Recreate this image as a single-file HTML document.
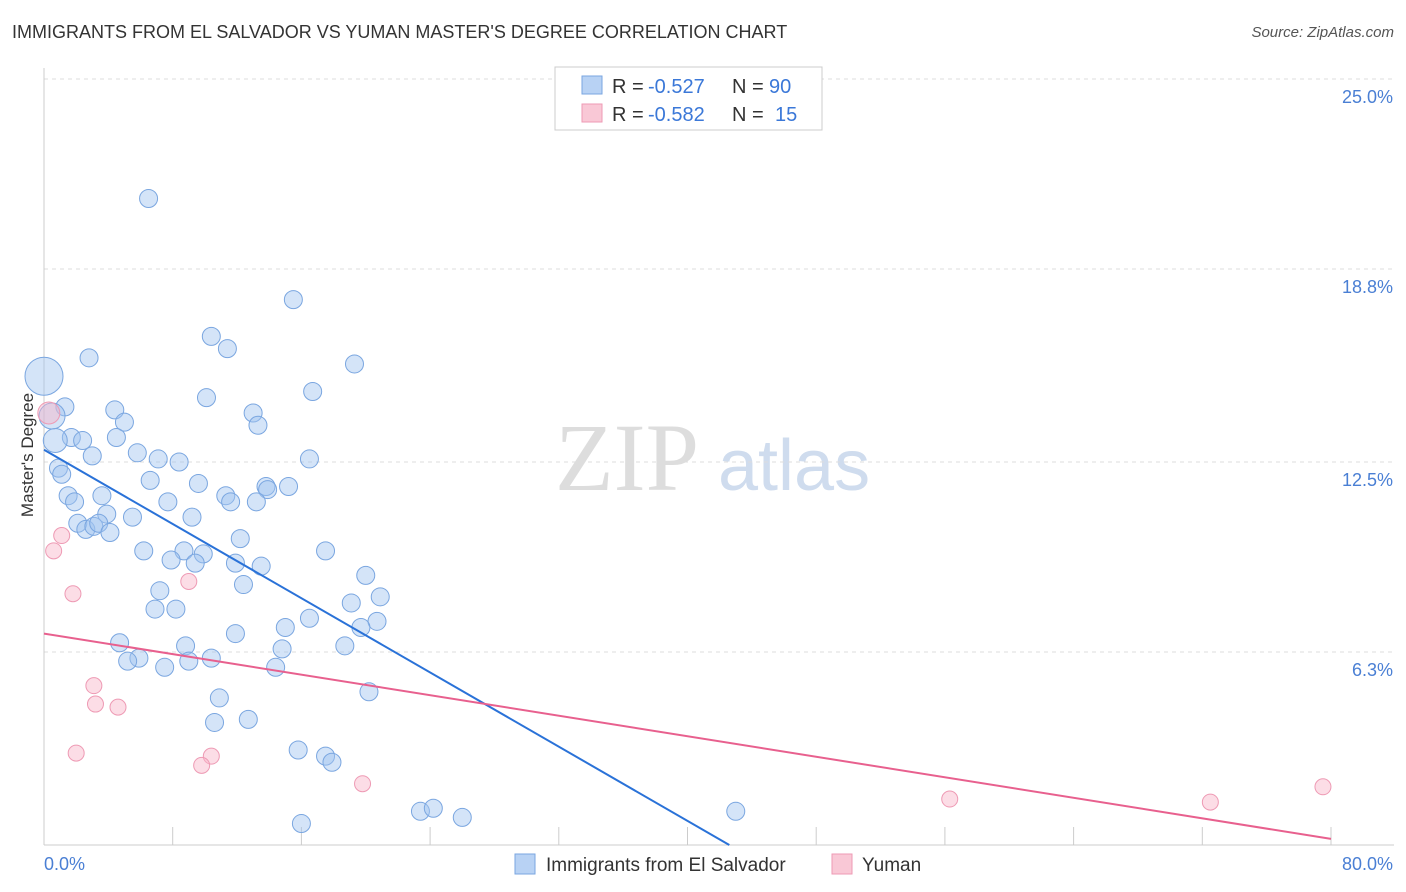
<!DOCTYPE html>
<html><head><meta charset="utf-8">
<style>
body{margin:0;background:#fff;font-family:"Liberation Sans",sans-serif;}
#wrap{position:relative;width:1406px;height:892px;overflow:hidden;}
.t{position:absolute;white-space:nowrap;}
</style></head>
<body>
<div id="wrap">
<div class="t" style="left:12px;top:22px;font-size:18px;color:#333;">IMMIGRANTS FROM EL SALVADOR VS YUMAN MASTER'S DEGREE CORRELATION CHART</div>
<div class="t" style="right:12px;top:24px;font-size:15px;color:#555;font-style:italic;">Source: ZipAtlas.com</div>
<div class="t" style="left:-34px;top:445px;font-size:17px;color:#333;transform:rotate(-90deg);">Master's Degree</div>
<svg id="svg" width="1406" height="892" style="position:absolute;left:0;top:0"></svg>
</div>
<script>
const yTicks=[6.3,12.5,18.8,25.0];
const yTickLabels=["6.3%","12.5%","18.8%","25.0%"];
const xTickLabels=["0.0%","80.0%"];
const blueX=[6.5,15.5,10.4,11.4,2.8,19.3,0,16.7,10.1,1.3,4.4,13.0,0.5,13.3,5.0,4.5,1.7,2.4,0.7,3.0,5.8,7.1,8.4,16.5,0.9,1.1,6.6,13.8,15.2,9.6,13.9,11.3,1.5,3.6,11.6,13.2,7.7,1.9,3.9,2.1,5.5,9.2,2.6,3.1,3.4,4.1,12.2,6.2,8.7,17.5,9.9,7.9,9.4,11.9,13.5,20.0,12.4,7.2,20.9,19.1,6.9,8.2,20.7,16.5,19.7,15.0,11.9,4.7,8.8,5.9,5.2,9.0,10.4,14.8,18.7,7.5,14.4,20.2,10.9,10.6,12.7,15.8,17.5,17.9,23.4,24.2,26.0,16.0,43.0];
const blueY=[21.1,17.8,16.6,16.2,15.9,15.7,15.3,14.8,14.6,14.3,14.2,14.1,14.0,13.7,13.8,13.3,13.3,13.2,13.2,12.7,12.8,12.6,12.5,12.6,12.3,12.1,11.9,11.7,11.7,11.8,11.6,11.4,11.4,11.4,11.2,11.2,11.2,11.2,10.8,10.5,10.7,10.7,10.3,10.4,10.5,10.2,10.0,9.6,9.6,9.6,9.5,9.3,9.2,9.2,9.1,8.8,8.5,8.3,8.1,7.9,7.7,7.7,7.3,7.4,7.1,7.1,6.9,6.6,6.5,6.1,6.0,6.0,6.1,6.4,6.5,5.8,5.8,5.0,4.8,4.0,4.1,3.1,2.9,2.7,1.1,1.2,0.9,0.7,1.1];
const blueR=[9,9,9,9,9,9,19,9,9,9,9,9,13,9,9,9,9,9,12,9,9,9,9,9,9,9,9,9,9,9,9,9,9,9,9,9,9,9,9,9,9,9,9,9,9,9,9,9,9,9,9,9,9,9,9,9,9,9,9,9,9,9,9,9,9,9,9,9,9,9,9,9,9,9,9,9,9,9,9,9,9,9,9,9,9,9,9,9,9];
const pinkX=[0.3,1.1,0.6,1.8,9.0,3.1,3.2,4.6,2.0,10.4,9.8,19.8,56.3,72.5,79.5];
const pinkY=[14.1,10.1,9.6,8.2,8.6,5.2,4.6,4.5,3.0,2.9,2.6,2.0,1.5,1.4,1.9];
const blueLine=[[0,12.9],[42.6,0]];
const pinkLine=[[0,6.9],[80,0.2]];
const X0=44,X1=1331,Y0=845,Y25=79;
const sx=v=>X0+(X1-X0)*v/80, sy=v=>Y0-(Y0-Y25)*v/25;
const svg=document.getElementById('svg');const NS='http://www.w3.org/2000/svg';
function mk(t,a,name){const e=document.createElementNS(NS,t);for(const k in a)e.setAttribute(k,a[k]);


svg.appendChild(e);return e;}
// watermark
let w=mk('text',{x:555,y:490,'font-size':96,fill:'#ddd','font-family':'Liberation Serif, serif'},'watermark-zip');w.textContent='ZIP';
w=mk('text',{x:718,y:490,'font-size':72,fill:'#cfdcee','font-family':'Liberation Sans, sans-serif'},'watermark-atlas');w.textContent='atlas';
yTicks.forEach((v,i)=>{mk('line',{x1:X0,x2:1394,y1:sy(v),y2:sy(v),stroke:'#ddd','stroke-dasharray':'4,4'},'gridline');
const t=mk('text',{x:1393,y:sy(v)+24,'text-anchor':'end','font-size':18,fill:'#4a7fd4'},'y-tick-label');t.textContent=yTickLabels[i];});
mk('line',{x1:X0,x2:X0,y1:68,y2:Y0,stroke:'#ccc'},'y-axis');
mk('line',{x1:X0,x2:1394,y1:Y0,y2:Y0,stroke:'#ccc'},'x-axis');
for(let i=0;i<=10;i++)mk('line',{x1:sx(i*8),x2:sx(i*8),y1:Y0,y2:Y0-18,stroke:'#ccc'},'x-tick');
let t=mk('text',{x:44,y:870,'font-size':18,fill:'#4a7fd4'},'x-tick-label');t.textContent=xTickLabels[0];
t=mk('text',{x:1393,y:870,'text-anchor':'end','font-size':18,fill:'#4a7fd4'},'x-tick-label');t.textContent=xTickLabels[1];
blueX.forEach((v,i)=>mk('circle',{cx:sx(v),cy:sy(blueY[i]),r:blueR[i]||9,fill:'rgba(160,195,240,0.45)',stroke:'#7aa6e0','stroke-width':1},'blue-point'));
pinkX.forEach((v,i)=>mk('circle',{cx:sx(v),cy:sy(pinkY[i]),r:i==0?11:8,fill:'rgba(248,180,200,0.45)',stroke:'#ee9ab4','stroke-width':1},'pink-point'));
mk('line',{x1:sx(blueLine[0][0]),y1:sy(blueLine[0][1]),x2:sx(blueLine[1][0]),y2:sy(blueLine[1][1]),stroke:'#2a72d8','stroke-width':2},'blue-trend-line');
mk('line',{x1:sx(pinkLine[0][0]),y1:sy(pinkLine[0][1]),x2:sx(pinkLine[1][0]),y2:sy(pinkLine[1][1]),stroke:'#e8608e','stroke-width':2},'pink-trend-line');
// top legend
mk('rect',{x:555,y:67,width:267,height:63,fill:'#fff',stroke:'#ccc'},'legend-box');
mk('rect',{x:582,y:76,width:20,height:18,fill:'#b8d2f4',stroke:'#7aa6e0'},'legend-swatch-blue');
mk('rect',{x:582,y:104,width:20,height:18,fill:'#f9c8d6',stroke:'#ee9ab4'},'legend-swatch-pink');
function lt(x,y,s,c,n){const e=mk('text',{x:x,y:y,'font-size':20,fill:c},n);e.textContent=s;}
lt(612,93,'R =','#333','legend-r-label');lt(648,93,'-0.527','#3b78d8','legend-r-blue');lt(732,93,'N =','#333','legend-n-label');lt(769,93,'90','#3b78d8','legend-n-blue');
lt(612,121,'R =','#333','legend-r-label');lt(648,121,'-0.582','#3b78d8','legend-r-pink');lt(732,121,'N =','#333','legend-n-label');lt(775,121,'15','#3b78d8','legend-n-pink');
// bottom legend
mk('rect',{x:515,y:854,width:20,height:20,fill:'#b8d2f4',stroke:'#7aa6e0'},'bottom-legend-swatch-blue');
mk('rect',{x:832,y:854,width:20,height:20,fill:'#f9c8d6',stroke:'#ee9ab4'},'bottom-legend-swatch-pink');
t=mk('text',{x:546,y:871,'font-size':19,fill:'#333'},'bottom-legend-blue');t.textContent='Immigrants from El Salvador';
t=mk('text',{x:862,y:871,'font-size':19,fill:'#333'},'bottom-legend-pink');t.textContent='Yuman';
</script>
</body></html>
